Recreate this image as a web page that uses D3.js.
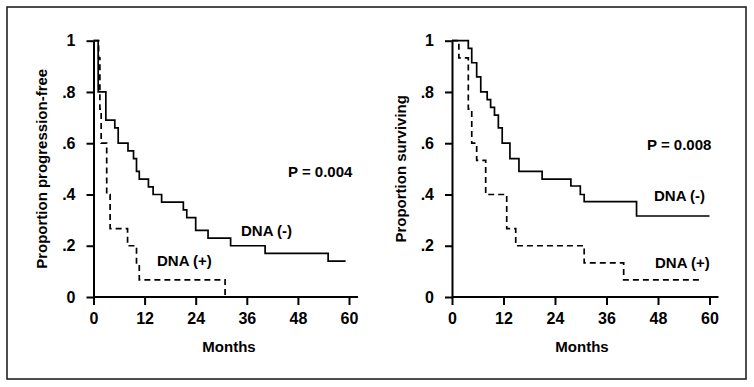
<!DOCTYPE html>
<html>
<head>
<meta charset="utf-8">
<script src="https://cdn.jsdelivr.net/npm/d3@7"></script>
<style>
  body { margin: 0; background: #fff; }
  svg { display: block; }
</style>
</head>
<body>
<svg id="chart"></svg>
<script>
// Kaplan-Meier steps (months, proportion)
const pfsNegTimes = [0, 1.1, 2.9, 5.0, 5.8, 8.1, 9.4, 10.1, 10.75, 12.9, 14.0, 16.0, 21.1, 21.9, 24.0, 26.9, 32.2, 40.3, 55.1, 59.2];
const pfsNegSurv  = [1, 0.80, 0.69, 0.66, 0.60, 0.57, 0.54, 0.49, 0.46, 0.43, 0.40, 0.37, 0.34, 0.31, 0.26, 0.23, 0.20, 0.17, 0.14, 0.14];
const pfsPosTimes = [0, 1.2, 1.5, 1.8, 3.1, 3.9, 8.0, 10.1, 10.75, 30.9];
const pfsPosSurv  = [1, 0.933, 0.733, 0.60, 0.40, 0.267, 0.20, 0.133, 0.067, 0];

const osNegTimes = [0, 3.8, 4.6, 5.75, 6.7, 8.2, 9.0, 9.9, 10.8, 11.7, 13.5, 15.6, 21.0, 27.7, 29.9, 30.8, 43.0, 60];
const osNegSurv  = [1, 0.97, 0.914, 0.859, 0.80, 0.77, 0.74, 0.71, 0.66, 0.60, 0.54, 0.49, 0.46, 0.433, 0.40, 0.372, 0.316, 0.316];
const osPosTimes = [0, 1.6, 3.8, 4.6, 5.75, 7.85, 12.75, 14.85, 30.8, 40.0, 58.3];
const osPosSurv  = [1, 0.933, 0.733, 0.60, 0.533, 0.40, 0.267, 0.20, 0.133, 0.067, 0.067];

const monthTicks = [0, 12, 24, 36, 48, 60];
const propTicks = [0, 0.2, 0.4, 0.6, 0.8, 1];
const yTitles = ["Proportion progression-free", "Proportion surviving"];
const pLabels = ["P = 0.004", "P = 0.008"];
const groupLabels = ["DNA (-)", "DNA (+)"];

const width = 754;
const height = 387;
const font = "bold 15px 'Liberation Sans', Arial, sans-serif";
const tickFont = "bold 16px 'Liberation Sans', Arial, sans-serif";

const svg = d3.select("#chart")
  .attr("width", width)
  .attr("height", height)
  .attr("viewBox", [0, 0, width, height])
  .style("font", font);

// outer frame
svg.append("rect")
  .attr("x", 7).attr("y", 7)
  .attr("width", 739).attr("height", 372)
  .attr("fill", "none")
  .attr("stroke", "#222")
  .attr("stroke-width", 1.6);

const panels = [
  {
    xRange: [93.5, 349], title: yTitles[0], p: pLabels[0],
    neg: d3.zip(pfsNegTimes, pfsNegSurv), pos: d3.zip(pfsPosTimes, pfsPosSurv),
    pPos: [288, 176.5], negPos: [241, 235.5], posPos: [157, 265.5], monthsX: 229
  },
  {
    xRange: [452, 709.5], title: yTitles[1], p: pLabels[1],
    neg: d3.zip(osNegTimes, osNegSurv), pos: d3.zip(osPosTimes, osPosSurv),
    pPos: [647, 149.5], negPos: [654, 200.5], posPos: [655, 267.5], monthsX: 582
  }
];

const y = d3.scaleLinear().domain([0, 1]).range([297, 40.7]);

panels.forEach((p) => {
  const x = d3.scaleLinear().domain([0, 60]).range(p.xRange);
  const g = svg.append("g");

  // x axis
  g.append("g")
    .attr("transform", `translate(0,${y(0)})`)
    .call(d3.axisBottom(x).tickValues(monthTicks).tickSize(8).tickSizeOuter(0).tickPadding(8))
    .call((a) => a.select(".domain").remove())
    .call((a) => a.selectAll(".tick line").attr("stroke", "#000").attr("stroke-width", 2))
    .call((a) => a.selectAll(".tick text").attr("fill", "#000").style("font", tickFont));
  g.append("line")
    .attr("x1", x(0)).attr("x2", x(60) + 9)
    .attr("y1", y(0)).attr("y2", y(0))
    .attr("stroke", "#000").attr("stroke-width", 2);

  // y axis
  g.append("g")
    .attr("transform", `translate(${x(0)},0)`)
    .call(d3.axisLeft(y).tickValues(propTicks).tickSize(7).tickSizeOuter(0).tickPadding(11)
      .tickFormat((d) => (d === 0 || d === 1 ? String(d) : d3.format(".1f")(d).replace(/^0/, ""))))
    .call((a) => a.select(".domain").attr("stroke", "#000").attr("stroke-width", 2))
    .call((a) => a.selectAll(".tick line").attr("stroke", "#000").attr("stroke-width", 2))
    .call((a) => a.selectAll(".tick text").attr("fill", "#000").style("font", tickFont));

  // curves
  const line = d3.line()
    .x((d) => x(d[0]))
    .y((d) => y(d[1]))
    .curve(d3.curveStepAfter);

  g.append("path")
    .datum(p.neg)
    .attr("d", line)
    .attr("fill", "none")
    .attr("stroke", "#000")
    .attr("stroke-width", 1.7);

  g.append("path")
    .datum(p.pos)
    .attr("d", line)
    .attr("fill", "none")
    .attr("stroke", "#000")
    .attr("stroke-width", 1.7)
    .attr("stroke-dasharray", "6,4");

  // titles and labels
  g.append("text")
    .attr("transform", `translate(${x(0) - 51.5},${(y(0) + y(1)) / 2}) rotate(-90)`)
    .attr("text-anchor", "middle")
    .attr("dy", "0.35em")
    .text(p.title);

  g.append("text")
    .attr("x", p.monthsX).attr("y", 352)
    .attr("text-anchor", "middle")
    .text("Months");

  g.append("text").attr("x", p.pPos[0]).attr("y", p.pPos[1]).text(p.p);
  g.append("text").attr("x", p.negPos[0]).attr("y", p.negPos[1]).text(groupLabels[0]);
  g.append("text").attr("x", p.posPos[0]).attr("y", p.posPos[1]).text(groupLabels[1]);
});
</script>
</body>
</html>
